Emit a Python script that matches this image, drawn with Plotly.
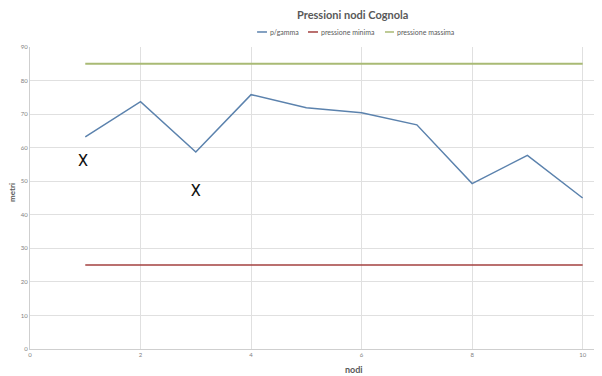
import plotly.graph_objects as go

nodi = [1, 2, 3, 4, 5, 6, 7, 8, 9, 10]
p_gamma = [63.2, 73.7, 58.7, 75.8, 71.9, 70.4, 66.8, 49.3, 57.7, 45.0]
p_min = [25] * 10
p_max = [85] * 10
x_marks_x = [0.96, 3.0]
x_marks_y = [55.7, 46.7]
x_ticks = [0, 2, 4, 6, 8, 10]
y_ticks = [0, 10, 20, 30, 40, 50, 60, 70, 80, 90]
series_names = ["p/gamma", "pressione minima", "pressione massima"]
series_colors = ["#5b82ad", "#a3403f", "#a9ba74"]

FONT = "Lato, Open Sans, sans-serif"

# page is offset by the 8px body margin; figure sized to fit the window
fig = go.Figure()
for name, vals, col, w in zip(series_names, [p_gamma, p_min, p_max], series_colors, [1.5, 1.5, 2]):
    fig.add_trace(go.Scatter(x=nodi, y=vals, mode="lines", name=name,
                             line=dict(color=col, width=w), showlegend=False))
fig.add_trace(go.Scatter(x=x_marks_x, y=x_marks_y, mode="text", text=["X", "X"],
                         textfont=dict(size=16, color="#111111", family="Roboto, Lato, sans-serif"),
                         showlegend=False, hoverinfo="skip"))

# custom compact legend (Excel style)
legend_line_x = [(0.397, 0.4143), (0.486, 0.5035), (0.6206, 0.6364)]
leg_y = 1.0497
shapes = []
annotations = []
for (x0, x1), name, col in zip(legend_line_x, series_names, series_colors):
    shapes.append(dict(type="line", xref="paper", yref="paper", x0=x0, x1=x1, y0=leg_y, y1=leg_y,
                       line=dict(color=col, width=1.5)))
    annotations.append(dict(text=name, xref="paper", yref="paper", x=x1 + 0.002, y=leg_y,
                            xanchor="left", yanchor="middle", showarrow=False,
                            font=dict(size=7, color="#595959", family=FONT)))

annotations += [
    dict(text="<b>Pressioni nodi Cognola</b>", xref="paper", yref="paper", x=0.563, y=1.106,
         xanchor="center", yanchor="middle", showarrow=False,
         font=dict(size=11, color="#595959", family=FONT)),
    dict(text="<b>nodi</b>", xref="paper", yref="paper", x=0.566, y=-0.0695,
         xanchor="center", yanchor="middle", showarrow=False,
         font=dict(size=9, color="#595959", family=FONT)),
    dict(text="<b>metri</b>", xref="paper", yref="paper", x=-0.0315, y=0.52, textangle=-90,
         xanchor="center", yanchor="middle", showarrow=False,
         font=dict(size=8, color="#595959", family=FONT)),
]

axis_font = dict(size=6, color="#7f7f7f", family=FONT)
fig.update_layout(
    width=594, height=368,
    margin=dict(l=22, r=0, t=39, b=27, autoexpand=False),
    paper_bgcolor="white", plot_bgcolor="white",
    showlegend=False,
    xaxis=dict(range=[0, 10.35], tickvals=x_ticks, showgrid=True, gridcolor="#e0e0e0", gridwidth=1,
               zeroline=False, showline=True, linecolor="#cfcfcf", tickfont=axis_font, ticks="",
               automargin=False),
    yaxis=dict(range=[0, 90], tickvals=y_ticks, showgrid=True, gridcolor="#e0e0e0", gridwidth=1,
               zeroline=False, showline=True, linecolor="#cfcfcf", tickfont=axis_font, ticks="",
               automargin=False),
    shapes=shapes,
    annotations=annotations,
)

fig.write_html("out.html")
